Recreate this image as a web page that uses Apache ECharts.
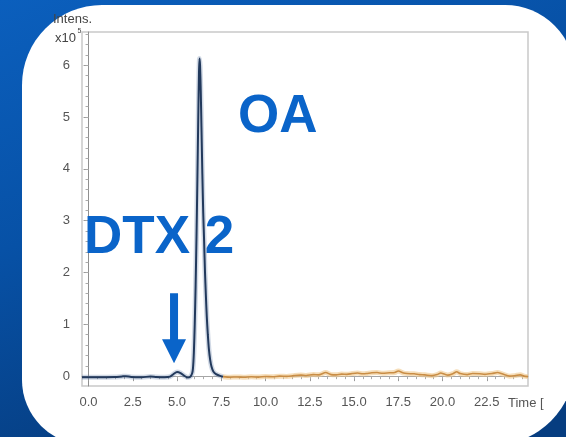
<!DOCTYPE html>
<html>
<head>
<meta charset="utf-8">
<style>
  html, body { margin: 0; padding: 0; background: #0a55ac; }
  #chart { width: 566px; height: 437px; }
</style>
<script src="https://cdn.jsdelivr.net/npm/echarts@6/dist/echarts.min.js"></script>
</head>
<body>
<div id="chart"></div>
<script>
// Axis ticks: retention time (min) and intensity (x10^5)
const xTickValues = [0, 2.5, 5, 7.5, 10, 12.5, 15, 17.5, 20, 22.5];
const yTickValues = [0, 1, 2, 3, 4, 5, 6];
const xRange = [-0.37, 24.83];
const yRange = [-0.19, 6.64];

// Chromatogram, first segment: baseline, DTX 2 shoulder and OA peak  [time, intensity]
const traceEarly = [
  [-0.37, -0.02], [0.5, -0.02], [1.0, -0.02], [1.5, -0.018], [1.9, -0.005], [2.1, 0.0],
  [2.4, -0.015], [3.0, -0.02], [3.5, -0.008], [3.8, -0.015], [4.3, -0.02], [4.6, -0.01],
  [4.8, 0.04], [5.0, 0.08], [5.2, 0.06], [5.4, 0.01], [5.6, -0.025], [5.75, -0.01],
  [5.85, 0.05], [5.9, 0.15], [5.95, 0.45], [6.0, 1.0], [6.05, 1.75], [6.1, 2.7],
  [6.15, 3.8], [6.2, 5.0], [6.24, 5.85], [6.27, 6.13], [6.3, 6.0], [6.34, 5.5],
  [6.38, 4.8], [6.43, 3.9], [6.48, 3.15], [6.53, 2.6], [6.58, 2.0], [6.63, 1.55],
  [6.68, 1.15], [6.74, 0.8], [6.8, 0.52], [6.87, 0.32], [6.95, 0.18], [7.05, 0.09],
  [7.2, 0.04], [7.4, 0.01], [7.6, -0.01]
];

// Chromatogram, second segment: late baseline
const traceLate = [
  [7.6, -0.01], [8.0, -0.02], [8.4, -0.015], [8.8, -0.022], [9.2, -0.012], [9.6, -0.018],
  [10.0, -0.008], [10.4, -0.012], [10.8, 0.0], [11.2, -0.005], [11.6, 0.01], [12.0, 0.02],
  [12.3, 0.012], [12.7, 0.03], [13.0, 0.025], [13.4, 0.07], [13.7, 0.03], [14.0, 0.025],
  [14.3, 0.04], [14.6, 0.035], [14.9, 0.05], [15.2, 0.06], [15.5, 0.045], [15.7, 0.05],
  [16.0, 0.065], [16.3, 0.07], [16.6, 0.055], [17.0, 0.065], [17.3, 0.07], [17.5, 0.1],
  [17.8, 0.06], [18.0, 0.05], [18.4, 0.045], [18.7, 0.03], [19.0, 0.025], [19.4, 0.01],
  [19.7, 0.03], [19.9, 0.06], [20.1, 0.04], [20.3, 0.02], [20.6, 0.05], [20.8, 0.085],
  [21.0, 0.05], [21.4, 0.03], [21.7, 0.05], [22.1, 0.045], [22.4, 0.035], [22.8, 0.05],
  [23.1, 0.07], [23.4, 0.04], [23.8, 0.0], [24.1, 0.01], [24.4, 0.025], [24.6, 0.0],
  [24.83, -0.01]
];

// Arrow marking the DTX 2 shoulder: [time, intensity] of tail and tip
const arrowTail = [4.83, 1.6];
const arrowTip = [4.83, 0.25];

function steps(a, b, s) {
  const out = [];
  for (let v = a; v <= b + 1e-9; v += s) out.push(+v.toFixed(3));
  return out;
}
const xMinorTicks = steps(0, 24.5, 0.5);
const yMinorTicks = steps(0, 6.6, 0.2);

const FONT = '"Liberation Sans", Arial, sans-serif';
const chart = echarts.init(document.getElementById('chart'));

const axisCommon = {
  type: 'value',
  splitLine: { show: false }
};

chart.setOption({
  animation: false,
  backgroundColor: {
    type: 'linear', x: 0, y: 0, x2: 0.3, y2: 1,
    colorStops: [
      { offset: 0, color: '#0b5fbd' },
      { offset: 0.5, color: '#0751a6' },
      { offset: 1, color: '#063d80' }
    ]
  },
  textStyle: { fontFamily: FONT },
  grid: {
    left: 82, right: 38, top: 32, bottom: 51,
    show: true, borderColor: '#c9c9c9', borderWidth: 1.5, backgroundColor: 'transparent'
  },
  xAxis: [
    Object.assign({}, axisCommon, {
      min: xRange[0], max: xRange[1],
      axisLine: { lineStyle: { color: '#a5a5a5', width: 1 } },
      axisTick: { show: true, length: 5, customValues: xTickValues, lineStyle: { color: '#999' } },
      axisLabel: {
        customValues: xTickValues, margin: 10, fontSize: 13, color: '#555',
        formatter: v => v.toFixed(1)
      }
    }),
    Object.assign({}, axisCommon, {
      min: xRange[0], max: xRange[1], position: 'bottom',
      axisLine: { show: false },
      axisTick: { show: true, length: 3, customValues: xMinorTicks, lineStyle: { color: '#aaa' } },
      axisLabel: { show: false }
    })
  ],
  yAxis: [
    Object.assign({}, axisCommon, {
      min: yRange[0], max: yRange[1],
      axisLine: { show: true, lineStyle: { color: '#8f8f8f', width: 1 } },
      axisTick: { show: true, length: 5, customValues: yTickValues, lineStyle: { color: '#999' } },
      axisLabel: { customValues: yTickValues, margin: 12, fontSize: 13, color: '#555' }
    }),
    Object.assign({}, axisCommon, {
      min: yRange[0], max: yRange[1], position: 'left',
      axisLine: { show: false },
      axisTick: { show: true, length: 3, customValues: yMinorTicks, lineStyle: { color: '#aaa' } },
      axisLabel: { show: false }
    })
  ],
  series: [
    { type: 'line', data: traceEarly, showSymbol: false, smooth: 0.25, z: 2,
      lineStyle: { color: 'rgba(90,120,160,0.28)', width: 5 } },
    { type: 'line', data: traceEarly, showSymbol: false, smooth: 0.25, z: 3,
      lineStyle: { color: '#22395c', width: 2 } },
    { type: 'line', data: traceLate, showSymbol: false, smooth: 0.25, z: 2,
      lineStyle: { color: 'rgba(240,200,140,0.6)', width: 5 } },
    { type: 'line', data: traceLate, showSymbol: false, smooth: 0.25, z: 3,
      lineStyle: { color: '#c98d45', width: 1.6 } }
  ]
});

// Arrow position follows the data axes
const p0 = chart.convertToPixel({ xAxisIndex: 0, yAxisIndex: 0 }, arrowTail);
const p1 = chart.convertToPixel({ xAxisIndex: 0, yAxisIndex: 0 }, arrowTip);
const cx = p1[0], headH = 24, headW = 12, shaftW = 4;
const base = p1[1] - headH;

const BLUE = '#0a64c9';

chart.setOption({
  graphic: [
    { type: 'rect', z: -10, silent: true,
      shape: { x: 22, y: 5, width: 553, height: 440, r: [80, 70, 82, 65] },
      style: { fill: '#ffffff' } },
    { type: 'text', z: 5, style: { x: 53, y: 19, text: 'Intens.', font: '13px ' + FONT,
      fill: '#444', textVerticalAlign: 'middle' } },
    { type: 'text', z: 5, style: { x: 55, y: 38, text: 'x10', font: '13px ' + FONT,
      fill: '#444', textVerticalAlign: 'middle' } },
    { type: 'text', z: 5, style: { x: 77.5, y: 31, text: '5', font: '7px ' + FONT,
      fill: '#444', textVerticalAlign: 'middle' } },
    { type: 'text', z: 5, style: { x: 508, y: 403, text: 'Time [', font: '13px ' + FONT,
      fill: '#555', textVerticalAlign: 'middle' } },
    { type: 'text', z: 20, style: { x: 238, y: 117, text: 'OA', font: 'bold 53px ' + FONT,
      fill: BLUE, textVerticalAlign: 'middle' } },
    { type: 'text', z: 20, style: { x: 84, y: 238.5, text: 'DTX 2', font: 'bold 53px ' + FONT,
      fill: BLUE, textVerticalAlign: 'middle' } },
    { type: 'polygon', z: 20,
      shape: { points: [
        [cx - shaftW, p0[1]], [cx + shaftW, p0[1]], [cx + shaftW, base], [cx + headW, base],
        [cx, p1[1]], [cx - headW, base], [cx - shaftW, base]
      ] },
      style: { fill: BLUE } }
  ]
});
</script>
</body>
</html>
